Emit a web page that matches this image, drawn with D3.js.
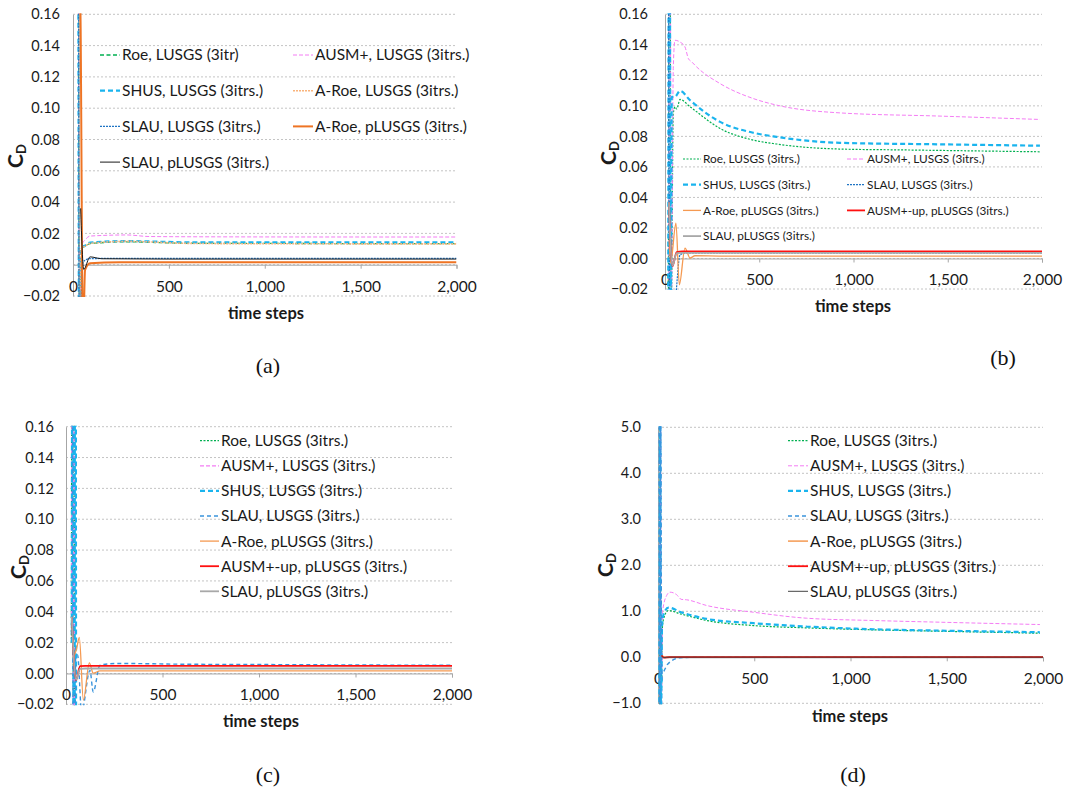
<!DOCTYPE html>
<html>
<head>
<meta charset="utf-8">
<script src="https://cdn.jsdelivr.net/npm/d3@7"></script>
<style>
  body { margin: 0; background: #fff; }
  svg { display: block; }
</style>
</head>
<body>
<svg width="1073" height="789"></svg>
<script>
// values: [time step, CD]

// (a)
const aRoe   = [[27,0.4],[33,-0.05],[45,0.0108],[63,0.0118],[89,0.0135],[280,0.0146],[600,0.0137],[1000,0.0136],[1500,0.0135],[2000,0.0135]];
const aAusm  = [[28,0.4],[34,-0.05],[45,0.0125],[63,0.0158],[89,0.0183],[280,0.019],[400,0.018],[768,0.0178],[1500,0.0177],[2000,0.0177]];
const aShus  = [[26,0.4],[32,-0.05],[45,0.011],[63,0.0122],[89,0.0142],[280,0.0151],[620,0.0143],[1000,0.0143],[2000,0.0142]];
const aARoe  = [[29,0.4],[35,-0.05],[45,0.0105],[63,0.0118],[89,0.0136],[280,0.0149],[620,0.0136],[1000,0.0134],[2000,0.0133]];
const aSlau  = [[27,0.4],[33,-0.05],[50,0.001],[70,0.0033],[89,0.0039],[300,0.0041],[1000,0.0041],[2000,0.0041]];
const aARoeP = [[25,0.3],[40,0.15],[52,-0.05],[63,-0.0034],[89,0.0009],[245,0.0015],[600,0.0016],[2000,0.0016]];
const aSlauP = [[40,0.036],[56,-0.003],[89,0.005],[150,0.0038],[500,0.0036],[2000,0.0036]];

// (b)
const bRoe     = [[18,-0.05],[24,0.4],[32,-0.05],[44,0.095],[53,0.0994],[62,0.098],[80,0.1042],[133,0.0994],[292,0.0852],[468,0.0776],[592,0.075],[928,0.0717],[1284,0.0711],[1989,0.0699]];
const bAusm    = [[20,-0.05],[26,0.4],[33,-0.05],[44,0.1255],[53,0.143],[80,0.1418],[106,0.1386],[124,0.131],[142,0.1288],[168,0.1255],[292,0.1146],[468,0.1048],[592,0.1005],[928,0.0954],[1459,0.0933],[1989,0.0911]];
const bShus    = [[17,-0.05],[23,0.4],[30,-0.05],[36,0.1059],[53,0.106],[80,0.1098],[133,0.1037],[292,0.0895],[468,0.0824],[592,0.0797],[928,0.0758],[1459,0.0748],[1989,0.0739]];
const bSlau    = [[16,0.4],[26,-0.05],[53,-0.03],[80,0.0024],[110,0.0037],[500,0.0037],[2000,0.0037]];
const bARoeP   = [[22,0.012],[30,-0.003],[58,0.0231],[76,-0.0172],[106,0.0068],[133,0.0003],[159,0.0018],[300,0.0016],[2000,0.0016]];
const bAusmUpP = [[21,0.0369],[39,-0.0052],[62,0.0042],[90,0.0047],[2000,0.0047]];
const bSlauP   = [[21,0.0369],[39,-0.0048],[62,0.0035],[90,0.0037],[2000,0.0037]];

// (c)
const cRoe     = [[28,0.02],[34,0.5],[40,-0.5],[46,0.5]];
const cAusm    = [[29,0.03],[35,0.5],[41,-0.5],[47,0.5]];
const cShus    = [[30,0.02],[36,0.5],[42,-0.5],[48,0.5],[54,-0.5]];
const cSlau    = [[33,0.5],[40,-0.3],[50,0.01],[60,0.012],[81,-0.025],[124,0.002],[141,-0.012],[176,0.0054],[263,0.0065],[600,0.006],[1000,0.0058],[1500,0.0055],[2000,0.0053]];
const cARoeP   = [[41,0.011],[55,0.016],[69,0.0234],[90,-0.0173],[121,0.0069],[141,0.0002],[176,0.0017],[400,0.0017],[2000,0.0017]];
const cAusmUpP = [[30,0.0367],[52,-0.0043],[73,0.0047],[100,0.0049],[2000,0.0049]];
const cSlauP   = [[30,0.0367],[52,-0.004],[73,0.003],[100,0.0032],[2000,0.0032]];

// (d)
const dRoe     = [[8,-1.5],[12,5.5],[16,-1.5],[22,0.6],[30,0.85],[54,1.017],[120,0.94],[253,0.8],[495,0.69],[772,0.64],[1118,0.597],[1465,0.567],[1984,0.523]];
const dAusm    = [[9,-1.5],[13,5.5],[17,-1.5],[24,1.0],[45,1.344],[62,1.416],[97,1.36],[110,1.3],[120,1.26],[149,1.25],[253,1.126],[495,0.98],[772,0.85],[1118,0.8],[1465,0.763],[1984,0.712]];
const dShus    = [[7,-1.5],[11,5.5],[15,-1.5],[21,0.7],[30,0.95],[55,1.08],[120,0.98],[253,0.835],[495,0.741],[772,0.669],[1118,0.61],[1465,0.58],[1984,0.545]];
const dSlau    = [[6,5.5],[10,-1.5],[14,5.5],[19,-0.36],[50,-0.15],[114,-0.01],[200,0],[2000,0]];
const dARoeP   = [[19,0.036],[40,0],[2000,0.002]];
const dAusmUpP = [[19,0.04],[30,-0.005],[60,0.005],[2000,0.005]];
const dSlauP   = [[19,0.036],[30,-0.005],[60,0.004],[2000,0.004]];

const xTicks = [0, 500, 1000, 1500, 2000];
const smallTicks = [-0.02, 0, 0.02, 0.04, 0.06, 0.08, 0.10, 0.12, 0.14, 0.16];
const bigTicks = [-1, 0, 1, 2, 3, 4, 5];

const col = {
  green: '#00b050', pink: '#f47cf4', cyan: '#1ab4ee', blue: '#1f74c4', blue2: '#3a94dc',
  lorange: '#f9b47c', orange: '#ee7424', aorange: '#f59a52', red: '#ff1010',
  black: '#1a1a1a', gray: '#a8a8a8', dark: '#444'
};

const panels = [
  { id: 'a', x0: 73, x1: 456.5, yTop: 14.3, yBot: 296, yDomain: [-0.02, 0.16], yTicks: smallTicks, yFmt: d3.format('.2f'), yPad: 13,
    yTitle: [16, 156], xTitle: [266, 313], label: [268, 365],
    legend: { x: 100, colW: 193, y0: 55, dy: 35.7, cols: 2, len: 20, fs: 15.5 },
    series: [
      { name: 'Roe, LUSGS (3itr)', data: aRoe, c: col.green, w: 1.3, dash: '4,2.5' },
      { name: 'AUSM+, LUSGS (3itrs.)', data: aAusm, c: col.pink, w: 1, dash: '4,2' },
      { name: 'SHUS, LUSGS (3itrs.)', data: aShus, c: col.cyan, w: 2.2, dash: '5,3' },
      { name: 'A-Roe, LUSGS (3itrs.)', data: aARoe, c: col.lorange, w: 1.6, dash: '2,1' },
      { name: 'SLAU, LUSGS (3itrs.)', data: aSlau, c: col.blue, w: 1.3, dash: '2,1' },
      { name: 'A-Roe, pLUSGS (3itrs.)', data: aARoeP, c: col.orange, w: 2, dash: null },
      { name: 'SLAU, pLUSGS (3itrs.)', data: aSlauP, c: col.black, w: 1, dash: null }
    ] },
  { id: 'b', x0: 665, x1: 1042, yTop: 14.3, yBot: 289, yDomain: [-0.02, 0.16], yTicks: smallTicks, yFmt: d3.format('.2f'), yPad: 17,
    yTitle: [609, 153], xTitle: [853, 306], label: [1003, 357],
    legend: { x: 683, colW: 164, y0: 159, dy: 25.7, cols: 2, len: 18, fs: 11.8 },
    series: [
      { name: 'Roe, LUSGS (3itrs.)', data: bRoe, c: col.green, w: 1.2, dash: '2,1.5' },
      { name: 'AUSM+, LUSGS (3itrs.)', data: bAusm, c: col.pink, w: 1, dash: '4,2' },
      { name: 'SHUS, LUSGS (3itrs.)', data: bShus, c: col.cyan, w: 2.2, dash: '5,3' },
      { name: 'SLAU, LUSGS (3itrs.)', data: bSlau, c: col.blue, w: 1.2, dash: '2,1' },
      { name: 'A-Roe, pLUSGS (3itrs.)', data: bARoeP, c: col.aorange, w: 1.3, dash: null },
      { name: 'AUSM+-up, pLUSGS (3itrs.)', data: bAusmUpP, c: col.red, w: 1.8, dash: null },
      { name: 'SLAU, pLUSGS (3itrs.)', data: bSlauP, c: col.gray, w: 1.8, dash: null }
    ] },
  { id: 'c', x0: 66, x1: 452, yTop: 426.7, yBot: 704.3, yDomain: [-0.02, 0.16], yTicks: smallTicks, yFmt: d3.format('.2f'), yPad: 12,
    yTitle: [19, 567], xTitle: [261, 721], label: [268, 774],
    legend: { x: 200, colW: 0, y0: 440.7, dy: 25.1, cols: 1, len: 19, fs: 15.5 },
    series: [
      { name: 'Roe, LUSGS (3itrs.)', data: cRoe, c: col.green, w: 1.2, dash: '2,1.5' },
      { name: 'AUSM+, LUSGS (3itrs.)', data: cAusm, c: col.pink, w: 1.2, dash: '4,2' },
      { name: 'SHUS, LUSGS (3itrs.)', data: cShus, c: col.cyan, w: 2.2, dash: '5,3' },
      { name: 'SLAU, LUSGS (3itrs.)', data: cSlau, c: col.blue2, w: 1.4, dash: '4,3' },
      { name: 'A-Roe, pLUSGS (3itrs.)', data: cARoeP, c: col.aorange, w: 1.3, dash: null },
      { name: 'AUSM+-up, pLUSGS (3itrs.)', data: cAusmUpP, c: col.red, w: 1.8, dash: null },
      { name: 'SLAU, pLUSGS (3itrs.)', data: cSlauP, c: col.gray, w: 1.8, dash: null }
    ] },
  { id: 'd', x0: 658, x1: 1043, yTop: 427.3, yBot: 703.3, yDomain: [-1, 5], yTicks: bigTicks, yFmt: d3.format('.1f'), yPad: 17,
    yTitle: [606, 565], xTitle: [850, 716], label: [853, 774],
    legend: { x: 788, colW: 0, y0: 440.7, dy: 25.1, cols: 1, len: 20, fs: 15.5 },
    series: [
      { name: 'Roe, LUSGS (3itrs.)', data: dRoe, c: col.green, w: 1.2, dash: '2,1.5' },
      { name: 'AUSM+, LUSGS (3itrs.)', data: dAusm, c: col.pink, w: 1, dash: '4,2' },
      { name: 'SHUS, LUSGS (3itrs.)', data: dShus, c: col.cyan, w: 2.2, dash: '5,3' },
      { name: 'SLAU, LUSGS (3itrs.)', data: dSlau, c: col.blue2, w: 1.4, dash: '4,3' },
      { name: 'A-Roe, pLUSGS (3itrs.)', data: dARoeP, c: col.aorange, w: 1.5, dash: null },
      { name: 'AUSM+-up, pLUSGS (3itrs.)', data: dAusmUpP, c: col.red, w: 1.8, dash: null },
      { name: 'SLAU, pLUSGS (3itrs.)', data: dSlauP, c: col.dark, w: 1, dash: null }
    ] }
];

const svg = d3.select('svg');
const font = "Lato, 'Open Sans', sans-serif";
const ink = '#1a1a1a';
const defs = svg.append('defs');

panels.forEach(p => {
  const x = d3.scaleLinear().domain([0, 2000]).range([p.x0, p.x1]);
  const y = d3.scaleLinear().domain(p.yDomain).range([p.yBot, p.yTop]);
  const g = svg.append('g');

  // dashed gridlines
  g.selectAll('line.grid')
    .data(p.yTicks)
    .enter()
    .append('line')
    .attr('x1', p.x0).attr('x2', p.x1)
    .attr('y1', d => y(d)).attr('y2', d => y(d))
    .attr('stroke', '#c4c4c4')
    .attr('stroke-dasharray', '2,2');

  // y axis
  const ya = g.append('g')
    .attr('transform', `translate(${p.x0},0)`)
    .call(d3.axisLeft(y).tickValues(p.yTicks).tickFormat(p.yFmt).tickSize(0).tickPadding(p.yPad));
  ya.select('.domain').attr('stroke', '#a6a6a6');
  ya.selectAll('text').attr('font-family', font).attr('font-size', 14.5).attr('fill', ink);

  // x axis crossing at zero
  const xa = g.append('g')
    .attr('transform', `translate(0,${y(0)})`)
    .call(d3.axisBottom(x).tickValues(xTicks).tickFormat(d3.format(',')).tickSizeOuter(0).tickSize(4).tickPadding(12));
  xa.select('.domain').attr('stroke', '#a6a6a6');
  xa.selectAll('.tick line').attr('stroke', '#a6a6a6');
  xa.selectAll('text').attr('font-family', font).attr('font-size', 15.5).attr('fill', ink);

  // series, clipped to the plot area
  defs.append('clipPath').attr('id', 'clip-' + p.id)
    .append('rect')
    .attr('x', p.x0).attr('y', p.yTop - 1)
    .attr('width', p.x1 - p.x0).attr('height', p.yBot - p.yTop + 2);

  const line = d3.line()
    .x(d => x(d[0]))
    .y(d => y(d[1]))
    .curve(d3.curveMonotoneX);

  g.append('g')
    .attr('clip-path', `url(#clip-${p.id})`)
    .selectAll('path')
    .data(p.series)
    .enter()
    .append('path')
    .attr('d', d => line(d.data))
    .attr('fill', 'none')
    .attr('stroke', d => d.c)
    .attr('stroke-width', d => d.w)
    .attr('stroke-dasharray', d => d.dash);

  // legend
  const L = p.legend;
  const items = g.append('g')
    .selectAll('g')
    .data(p.series)
    .enter()
    .append('g')
    .attr('transform', (d, i) => `translate(${L.x + (i % L.cols) * L.colW},${L.y0 + Math.floor(i / L.cols) * L.dy})`);
  items.append('line')
    .attr('x1', 0).attr('x2', L.len)
    .attr('stroke', d => d.c)
    .attr('stroke-width', d => d.w)
    .attr('stroke-dasharray', d => d.dash);
  items.append('text')
    .attr('x', L.len + 2)
    .attr('dy', '0.35em')
    .attr('font-family', font)
    .attr('font-size', L.fs)
    .attr('fill', ink)
    .text(d => d.name);

  // axis titles
  const yt = g.append('text')
    .attr('transform', `translate(${p.yTitle[0]},${p.yTitle[1]}) rotate(-90)`)
    .attr('text-anchor', 'middle')
    .attr('dy', '0.35em')
    .attr('font-family', font)
    .attr('font-weight', 'bold')
    .attr('font-size', 21)
    .attr('fill', ink);
  yt.append('tspan').text('C');
  yt.append('tspan').attr('font-size', 13).attr('dy', 3).text('D');

  g.append('text')
    .attr('x', p.xTitle[0]).attr('y', p.xTitle[1])
    .attr('text-anchor', 'middle')
    .attr('dy', '0.35em')
    .attr('font-family', font)
    .attr('font-weight', 'bold')
    .attr('font-size', 16.5)
    .attr('fill', ink)
    .text('time steps');

  // panel label
  g.append('text')
    .attr('x', p.label[0]).attr('y', p.label[1])
    .attr('text-anchor', 'middle')
    .attr('dy', '0.35em')
    .attr('font-family', "'Liberation Serif', 'Times New Roman', serif")
    .attr('font-size', 22)
    .attr('fill', '#111')
    .text(`(${p.id})`);
});
</script>
</body>
</html>
